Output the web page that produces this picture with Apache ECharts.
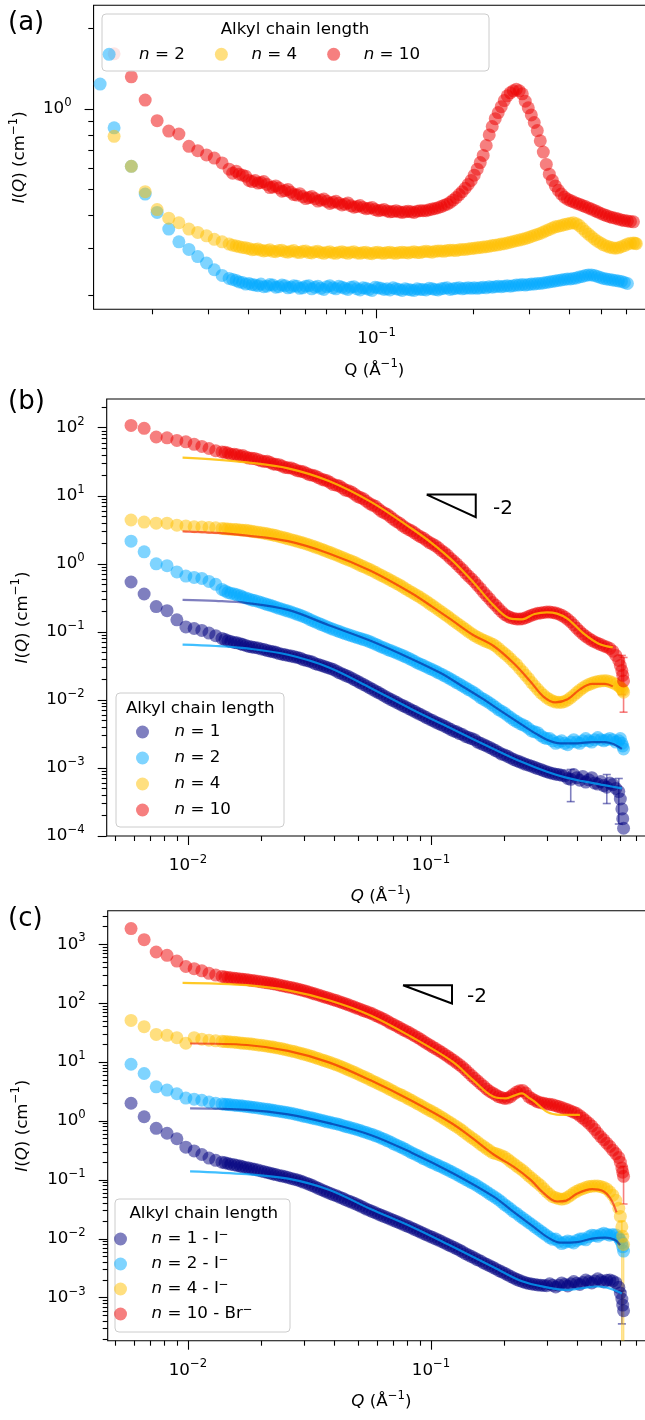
<!DOCTYPE html>
<html><head><meta charset="utf-8">
<script src="https://cdn.jsdelivr.net/npm/echarts@6.0.0/dist/echarts.min.js"></script>
<style>html,body{margin:0;padding:0;background:#fff;overflow:hidden;width:645px;height:1420px}
#c{width:660px;height:1420px}</style></head>
<body><div id="c"></div>
<script>
// ---------- DATA ----------
// Panel (a): Q values and intensities
const qA = [0.01375,0.0152,0.0172,0.019,0.0207,0.0225,0.0242,0.026,0.0277,0.0295,0.0312,0.033,
 0.0347,0.0356,0.0365,0.0373,0.0382,0.0391,0.04,0.0409,0.0418,0.0427,0.0436,0.0445,0.0455,0.0465,0.0475,0.0485,0.0496,0.0507,0.0518,0.0529,0.054,0.0552,0.0564,0.0576,0.0589,0.0602,0.0615,0.0628,0.0642,0.0656,0.067,0.0685,0.07,0.0715,0.0731,0.0747,0.0763,0.078,0.0797,0.0814,0.0832,0.085,0.0869,0.0888,0.0907,0.0927,0.0947,0.0968,0.0989,0.101,0.1032,0.1055,0.1078,0.1101,0.1125,0.115,0.1175,0.1201,0.1227,0.1254,0.1281,0.1309,0.1337,0.1366,0.1396,0.1427,0.1458,0.149,0.1522,0.1555,0.1589,0.1624,0.1659,0.1695,0.1732,0.177,0.1809,0.1848,0.1888,0.193,
 0.1972,0.2015,0.2059,0.2104,0.2149,0.2196,0.2244,0.2293,0.2343,0.2394,0.2446,0.25,0.2554,0.261,0.2666,0.2725,0.2784,0.2845,0.2906,0.297,0.3035,0.31,0.3168,0.3237,0.3308,0.338,0.3454,
 0.353,0.3606,0.3685,0.3765,0.3848,0.3931,0.4017,0.4104,0.4194,0.4285,0.4379,0.4474,0.4572,0.4671,0.4773,0.4877,0.4984,0.5092,0.5203,0.5316,0.5432,0.555,0.5671,0.5795,0.5921,0.605,0.6183,0.6317,0.64,0.645];
const IA2 = [1.24,0.85,0.61,0.48,0.41,0.355,0.318,0.298,0.28,0.265,0.25,0.238,
 0.232,0.23,0.228,0.225,0.224,0.221,0.222,0.22,0.219,0.218,0.221,0.216,0.217,0.22,0.219,0.215,0.216,0.219,0.218,0.214,0.215,0.218,0.217,0.213,0.214,0.217,0.218,0.212,0.215,0.217,0.213,0.211,0.216,0.218,0.214,0.212,0.217,0.215,0.213,0.211,0.215,0.216,0.212,0.21,0.214,0.213,0.211,0.209,0.215,0.214,0.213,0.211,0.212,0.21,0.214,0.212,0.211,0.209,0.212,0.211,0.21,0.209,0.212,0.211,0.211,0.21,0.213,0.212,0.211,0.21,0.212,0.213,0.214,0.211,0.212,0.213,0.214,0.212,0.213,0.214,
 0.213,0.214,0.213,0.214,0.215,0.214,0.216,0.215,0.216,0.217,0.216,0.217,0.218,0.217,0.218,0.219,0.219,0.22,0.219,0.22,0.221,0.221,0.222,0.222,0.223,0.224,0.225,
 0.226,0.227,0.228,0.229,0.23,0.231,0.231,0.232,0.233,0.235,0.236,0.238,0.239,0.239,0.238,0.236,0.234,0.232,0.231,0.23,0.229,0.228,0.227,0.226,0.224,0.222,null,null,null,null];
const IA4 = [null,0.79,0.61,0.49,0.42,0.39,0.375,0.355,0.345,0.335,0.325,0.318,
 0.312,0.309,0.307,0.305,0.303,0.302,0.3,0.297,0.298,0.299,0.296,0.294,0.295,0.297,0.293,0.292,0.295,0.296,0.292,0.291,0.293,0.295,0.291,0.29,0.293,0.294,0.29,0.289,0.292,0.293,0.29,0.288,0.291,0.292,0.289,0.288,0.291,0.292,0.29,0.288,0.291,0.292,0.289,0.288,0.29,0.291,0.288,0.287,0.29,0.291,0.289,0.288,0.29,0.291,0.289,0.288,0.29,0.291,0.29,0.289,0.291,0.292,0.29,0.29,0.292,0.293,0.292,0.291,0.293,0.294,0.294,0.293,0.295,0.296,0.296,0.295,0.297,0.298,0.298,0.299,
 0.3,0.301,0.302,0.303,0.304,0.305,0.306,0.308,0.309,0.31,0.312,0.313,0.315,0.317,0.319,0.321,0.323,0.325,0.327,0.33,0.333,0.336,0.339,0.342,0.346,0.35,0.354,
 0.358,0.362,0.364,0.366,0.369,0.371,0.373,0.375,0.372,0.366,0.357,0.348,0.34,0.333,0.326,0.32,0.315,0.31,0.307,0.304,0.302,0.301,0.302,0.305,0.308,0.312,0.314,0.315,0.314,0.313];
const IA10 = [null,1.61,1.32,1.08,0.904,0.827,0.806,0.725,0.698,0.673,0.655,0.628,
 0.595,0.575,0.585,0.57,0.565,0.56,0.54,0.535,0.54,0.528,0.53,0.535,0.522,0.508,0.51,0.515,0.506,0.492,0.495,0.5,0.488,0.478,0.476,0.482,0.47,0.462,0.466,0.47,0.462,0.452,0.456,0.46,0.451,0.443,0.447,0.451,0.444,0.437,0.44,0.445,0.434,0.429,0.431,0.435,0.428,0.423,0.425,0.428,0.42,0.416,0.418,0.42,0.415,0.412,0.413,0.416,0.412,0.41,0.412,0.414,0.412,0.41,0.414,0.416,0.416,0.416,0.419,0.422,0.424,0.427,0.431,0.436,0.44,0.447,0.456,0.466,0.478,0.49,0.505,0.522,
 0.54,0.565,0.595,0.63,0.67,0.73,0.8,0.86,0.92,0.97,1.02,1.075,1.12,1.15,1.17,1.185,1.17,1.14,1.07,1.01,0.95,0.89,0.83,0.76,0.69,0.62,0.57,
 0.54,0.515,0.496,0.48,0.468,0.46,0.454,0.449,0.444,0.44,0.435,0.431,0.426,0.422,0.417,0.412,0.407,0.403,0.399,0.395,0.392,0.39,0.387,0.384,0.382,0.381,0.379,0.378,null,null];

// Panels (b) and (c): shared Q values
const qB = [0.00583,0.0066,0.0074,0.0082,0.009,0.0098,0.0106,0.0114,0.0122,0.013,
 0.0138,0.0142,0.0146,0.015,0.0155,0.0159,0.0164,0.0168,0.0173,0.0178,0.0183,0.0188,0.0194,0.02,0.0206,0.0212,0.0218,0.0224,0.023,0.0237,0.0244,0.0251,0.0258,0.0266,0.0274,0.0282,0.029,0.0298,0.0307,0.0316,0.0325,0.0334,0.0344,0.0354,0.0364,0.0374,0.0385,0.0396,0.0408,0.042,0.0432,0.0444,0.0457,0.047,0.0484,0.0498,0.0512,0.0527,0.0542,0.0558,0.0574,0.0591,0.0608,0.0625,0.0643,0.0662,0.0681,0.0701,0.0721,0.0742,0.0763,0.0785,0.0808,0.0831,0.0855,0.088,0.0905,0.0931,0.0958,0.0986,0.1014,0.1044,0.1074,0.1105,0.1137,0.117,0.1203,0.1238,0.1274,0.1311,0.1348,0.1387,0.1427,0.1469,0.1511,0.1555,0.16,0.1646,0.1693,0.1742,0.1792,0.1844,0.1897,0.1952,0.2009,0.2067,0.2126,0.2188,0.2251,0.2316,0.2383,0.2452,0.2522,0.2595,0.267,0.2747,0.2827,0.2909,0.2992,0.3079,0.3168,0.3259,0.3353,0.345,0.355,0.3652,0.3758,0.3867,0.3978,0.4093,0.4211,0.4333,0.4458,0.4587,0.4719,0.4855,0.4995,0.514,0.5288,0.5441,0.5598,0.576,0.5926,0.6013,0.61,0.615,0.62];
const IB10 = [108,98,73,71,65,62,57,53,49.5,46,
 44,43.5,42.5,40.8,40.6,40.2,38.5,38.9,37.2,35.8,35.5,35.2,34,32.6,32,32.1,30.8,29.4,29,28.6,27.3,26.1,25.8,25.5,24.5,23.3,23,22.6,21.5,20.4,20,19.5,18.5,17.5,17,16.6,15.6,14.6,14.3,13.9,13,12.1,11.8,11.4,10.6,9.8,9.4,9.0,8.3,7.7,7.3,7.0,6.4,5.9,5.6,5.3,4.9,4.5,4.2,3.95,3.65,3.4,3.2,3.05,2.85,2.65,2.5,2.38,2.2,2.05,1.95,1.84,1.7,1.56,1.45,1.33,1.2,1.1,1.0,0.9,0.82,0.73,0.66,0.6,0.54,0.48,0.43,0.38,0.34,0.305,0.27,0.245,0.22,0.198,0.18,0.17,0.162,0.157,0.155,0.154,0.156,0.161,0.168,0.176,0.182,0.187,0.19,0.193,0.195,0.195,0.193,0.189,0.183,0.175,0.165,0.153,0.14,0.126,0.113,0.102,0.093,0.086,0.08,0.075,0.071,0.068,0.065,0.062,0.06,0.057,0.052,0.045,0.038,0.032,0.027,0.023,0.019];
const IB4 = [4.4,4.1,3.95,3.95,3.7,3.6,3.5,3.48,3.42,3.38,
 3.3,3.27,3.26,3.22,3.2,3.18,3.15,3.12,3.1,3.05,3.0,2.97,2.92,2.87,2.82,2.76,2.7,2.66,2.6,2.52,2.46,2.4,2.33,2.26,2.2,2.14,2.08,2.02,1.96,1.89,1.83,1.76,1.7,1.64,1.58,1.52,1.46,1.4,1.35,1.29,1.24,1.19,1.14,1.1,1.05,1.0,0.95,0.91,0.87,0.83,0.79,0.75,0.71,0.675,0.64,0.61,0.575,0.545,0.515,0.49,0.46,0.43,0.405,0.383,0.36,0.34,0.32,0.3,0.28,0.26,0.243,0.226,0.21,0.196,0.182,0.17,0.157,0.146,0.135,0.126,0.117,0.109,0.101,0.094,0.088,0.083,0.079,0.075,0.072,0.069,0.066,0.062,0.057,0.052,0.048,0.044,0.04,0.036,0.033,0.029,0.026,0.023,0.0205,0.018,0.016,0.0143,0.0128,0.0117,0.0108,0.0101,0.0096,0.0093,0.0092,0.0092,0.0095,0.01,0.0108,0.0117,0.0128,0.0139,0.015,0.016,0.0168,0.0175,0.0182,0.0187,0.019,0.0191,0.0191,0.0186,0.0178,0.017,0.016,0.0152,0.0145,0.0138,0.013];
const IB2 = [2.15,1.5,1.0,0.94,0.76,0.66,0.63,0.61,0.55,0.5,
 0.42,0.4,0.38,0.37,0.36,0.35,0.34,0.325,0.315,0.305,0.295,0.288,0.28,0.27,0.262,0.252,0.245,0.238,0.23,0.222,0.215,0.208,0.202,0.195,0.188,0.181,0.175,0.168,0.161,0.153,0.146,0.14,0.134,0.128,0.123,0.118,0.113,0.109,0.105,0.101,0.097,0.094,0.091,0.088,0.085,0.082,0.08,0.077,0.075,0.072,0.069,0.066,0.063,0.06,0.058,0.055,0.053,0.051,0.049,0.047,0.045,0.043,0.041,0.039,0.037,0.035,0.0335,0.032,0.0305,0.029,0.0278,0.0264,0.025,0.0238,0.0226,0.0214,0.0202,0.0191,0.018,0.017,0.016,0.0151,0.0142,0.0134,0.0126,0.0117,0.0108,0.0102,0.0096,0.009,0.0084,0.0078,0.0072,0.0068,0.0064,0.0059,0.0055,0.0051,0.0048,0.0045,0.0043,0.0041,0.0038,0.0035,0.0034,0.0033,0.003,0.0028,0.0027,0.0027,0.0025,0.0023,0.0024,0.0025,0.0023,0.0022,0.0024,0.0026,0.0024,0.0023,0.0025,0.0027,0.0025,0.0024,0.0026,0.0028,0.0026,0.0025,0.0026,0.0027,0.0026,0.0024,0.0025,0.0027,0.0023,0.0021,0.0019,0.0017,0.0016];
const IB1 = [0.54,0.36,0.235,0.205,0.15,0.118,0.112,0.105,0.096,0.088,
 0.08,0.077,0.074,0.072,0.07,0.069,0.067,0.065,0.063,0.061,0.06,0.059,0.058,0.056,0.055,0.053,0.052,0.051,0.05,0.048,0.047,0.046,0.045,0.044,0.043,0.042,0.041,0.039,0.038,0.037,0.036,0.034,0.033,0.032,0.031,0.03,0.029,0.028,0.0265,0.025,0.024,0.023,0.022,0.021,0.0198,0.0188,0.0178,0.0169,0.016,0.0151,0.0143,0.0135,0.0128,0.0121,0.0114,0.0108,0.0102,0.0097,0.0092,0.0087,0.0083,0.0079,0.0075,0.0071,0.0068,0.0064,0.0061,0.0058,0.0055,0.0052,0.005,0.0047,0.0045,0.0043,0.0041,0.0039,0.0037,0.0035,0.0034,0.0032,0.0031,0.0029,0.0028,0.0027,0.0026,0.0024,0.0023,0.0022,0.0021,0.002,0.0019,0.0018,0.0017,0.0016,0.00155,0.00148,0.0014,0.00133,0.00128,0.00123,0.00118,0.00113,0.0011,0.00106,0.00102,0.00098,0.00095,0.00091,0.00088,0.00085,0.00083,0.00081,0.0008,0.00078,0.00077,0.0007,0.00068,0.0008,0.00072,0.00066,0.00075,0.00062,0.00067,0.00072,0.0006,0.00058,0.00063,0.00055,0.00052,0.0006,0.00057,0.0005,0.00045,0.00035,0.00025,0.00018,0.00013];
const IC10 = [1850,1200,740,650,520,420,385,355,322,300,
 285,278,272,270,265,262,258,255,252,248,244,240,236,231,226,222,218,214,210,204,198,194,189,185,180,175,170,165,159,154,148,143,138,133,128,124,119,115,111,106,102,98,94,90,86,82,79,75,72,69,66,62,59,56,53,49.5,46,43.5,41,38.5,36,34,32,30,28,26.2,24.5,22.7,21,19.6,18.2,17,15.8,14.7,13.6,12.6,11.6,10.7,9.8,9.0,8.2,7.4,6.6,5.9,5.3,4.8,4.3,3.9,3.5,3.2,3.0,2.8,2.6,2.5,2.42,2.45,2.6,2.85,3.1,3.25,3.3,3.0,2.6,2.4,2.25,2.12,2.05,2.0,1.95,1.92,1.88,1.82,1.76,1.69,1.62,1.55,1.48,1.41,1.34,1.23,1.12,1.02,0.92,0.82,0.72,0.62,0.54,0.48,0.42,0.37,0.32,0.28,0.24,0.2,0.16,0.135,0.115];
const IC4 = [51,40,29.5,28.5,26,21,26,24.5,23.5,23,
 22.5,22.3,22.2,22.0,21.8,21.5,21.2,21.0,20.7,20.5,20.2,19.9,19.6,19.3,19,18.6,18.3,18.0,17.6,17.2,16.8,16.3,15.9,15.5,15.1,14.6,14.2,13.7,13.3,12.8,12.4,11.9,11.5,11.0,10.6,10.2,9.8,9.4,9.0,8.6,8.2,7.8,7.4,7.05,6.7,6.35,6.0,5.7,5.4,5.1,4.8,4.55,4.3,4.05,3.85,3.62,3.4,3.2,3.0,2.85,2.7,2.54,2.38,2.24,2.1,1.97,1.85,1.73,1.62,1.52,1.43,1.34,1.25,1.16,1.08,1.0,0.93,0.86,0.8,0.74,0.68,0.62,0.57,0.52,0.48,0.44,0.4,0.37,0.34,0.315,0.29,0.28,0.27,0.258,0.245,0.225,0.205,0.188,0.172,0.158,0.145,0.131,0.118,0.107,0.097,0.088,0.08,0.071,0.063,0.057,0.052,0.05,0.048,0.047,0.048,0.051,0.055,0.06,0.064,0.068,0.071,0.074,0.077,0.078,0.079,0.079,0.077,0.074,0.07,0.063,0.055,0.045,0.033,0.024,0.016,0.011,0.008];
const IC2 = [9.2,6.4,3.8,3.35,2.9,2.45,2.35,2.25,2.1,2.0,
 1.95,1.92,1.9,1.88,1.86,1.84,1.82,1.8,1.77,1.75,1.72,1.7,1.67,1.63,1.6,1.58,1.55,1.52,1.5,1.47,1.44,1.41,1.38,1.35,1.32,1.28,1.25,1.21,1.18,1.15,1.12,1.09,1.06,1.03,1.0,0.97,0.95,0.92,0.9,0.87,0.84,0.81,0.79,0.76,0.74,0.71,0.69,0.66,0.64,0.61,0.59,0.56,0.54,0.51,0.49,0.46,0.44,0.41,0.39,0.37,0.35,0.33,0.31,0.29,0.275,0.26,0.245,0.23,0.218,0.206,0.195,0.185,0.175,0.166,0.157,0.148,0.14,0.132,0.124,0.116,0.109,0.102,0.096,0.09,0.085,0.079,0.073,0.068,0.063,0.058,0.054,0.05,0.046,0.042,0.038,0.035,0.032,0.029,0.027,0.0245,0.0225,0.0207,0.019,0.0175,0.016,0.0147,0.0135,0.0124,0.0114,0.0105,0.0098,0.0099,0.009,0.0083,0.0087,0.0092,0.0089,0.0085,0.0094,0.0099,0.01,0.0096,0.0108,0.0115,0.0114,0.011,0.0118,0.0124,0.012,0.0115,0.0118,0.0116,0.0105,0.0095,0.0085,0.0073,0.0062];
const IC1 = [2.0,1.18,0.75,0.62,0.5,0.36,0.31,0.27,0.235,0.215,
 0.2,0.195,0.19,0.185,0.18,0.176,0.172,0.167,0.163,0.159,0.155,0.151,0.147,0.142,0.138,0.134,0.13,0.126,0.123,0.119,0.116,0.113,0.11,0.106,0.103,0.1,0.096,0.092,0.088,0.084,0.08,0.076,0.072,0.068,0.065,0.062,0.059,0.056,0.054,0.051,0.049,0.046,0.044,0.042,0.04,0.038,0.036,0.034,0.032,0.0305,0.029,0.0276,0.0262,0.025,0.0238,0.0227,0.0216,0.0206,0.0196,0.0187,0.0178,0.0169,0.0161,0.0153,0.0145,0.0137,0.013,0.0123,0.0117,0.0111,0.0106,0.01,0.0095,0.009,0.0085,0.008,0.0076,0.0072,0.0068,0.0064,0.006,0.0056,0.0053,0.005,0.0047,0.0044,0.0042,0.0039,0.0037,0.0035,0.0033,0.0031,0.0029,0.00275,0.0026,0.00245,0.0023,0.00217,0.00205,0.00195,0.00187,0.0018,0.00175,0.00171,0.00168,0.00165,0.00163,0.00161,0.0016,0.00172,0.00162,0.00152,0.00163,0.00178,0.00168,0.00158,0.00172,0.00188,0.00176,0.00168,0.00182,0.002,0.00188,0.00178,0.00193,0.0021,0.00196,0.00185,0.00197,0.002,0.00192,0.0018,0.0015,0.0012,0.00095,0.00075,0.0006];

// Model fits
const fqB10 = [0.0095,0.013,0.0175,0.0258,0.038,0.0564,0.0832,0.101,0.123,0.149,0.181,0.211,0.237,0.267,0.3,0.33,0.365,0.424,0.49,0.56];
const fIB10 = [36.3,34,30.9,25.3,16.5,8.2,3.3,2.0,1.1,0.54,0.245,0.158,0.153,0.183,0.193,0.185,0.155,0.095,0.067,0.059];
const fqB4 = [0.0095,0.013,0.0175,0.0258,0.038,0.0564,0.0832,0.101,0.123,0.149,0.181,0.22,0.257,0.29,0.325,0.365,0.41,0.46,0.52,0.56];
const fIB4 = [3.0,2.85,2.6,2.15,1.42,0.79,0.37,0.235,0.145,0.09,0.062,0.034,0.0185,0.0112,0.0092,0.0102,0.0143,0.0172,0.0172,0.0158];
const fqB2 = [0.0095,0.013,0.0175,0.0258,0.038,0.0564,0.0832,0.109,0.133,0.161,0.195,0.237,0.27,0.3,0.34,0.4,0.46,0.52,0.57,0.61];
const fIB2 = [0.296,0.285,0.265,0.21,0.125,0.074,0.04,0.025,0.0163,0.0107,0.0068,0.0043,0.0032,0.0026,0.0023,0.0023,0.0024,0.0024,0.0022,0.0019];
const fqB1 = [0.0095,0.013,0.0175,0.0258,0.038,0.0564,0.0832,0.123,0.181,0.237,0.3,0.36,0.42,0.5,0.56,0.61];
const fIB1 = [0.065,0.062,0.057,0.046,0.03,0.015,0.0073,0.0037,0.0019,0.00122,0.00088,0.00072,0.00064,0.00057,0.00053,0.0005];
const fqC10 = [0.0095,0.013,0.0175,0.0258,0.038,0.0564,0.0832,0.123,0.149,0.181,0.204,0.22,0.237,0.252,0.267,0.3,0.34,0.41];
const fIC10 = [221,215,202,165,112,62,26.7,10.1,4.95,2.58,2.42,2.7,2.94,2.5,2.13,1.43,1.27,1.27];
const fqC4 = [0.0102,0.0175,0.0258,0.038,0.0564,0.0832,0.123,0.149,0.181,0.22,0.257,0.29,0.33,0.36,0.4,0.46,0.51,0.55,0.58];
const fIC4 = [20.7,19.5,15.5,9.9,4.9,2.2,0.89,0.5,0.27,0.165,0.1,0.06,0.043,0.0445,0.059,0.07,0.065,0.047,0.028];
const fqC2 = [0.0102,0.0175,0.0258,0.038,0.0564,0.0832,0.123,0.181,0.22,0.267,0.3,0.34,0.4,0.46,0.52,0.57,0.6];
const fIC2 = [1.64,1.55,1.3,0.92,0.58,0.29,0.13,0.052,0.028,0.0155,0.0108,0.0086,0.0088,0.0101,0.0105,0.0096,0.0078];
const fqC1 = [0.0102,0.0175,0.0258,0.038,0.0564,0.0832,0.123,0.181,0.237,0.3,0.36,0.42,0.48,0.53,0.58,0.61];
const fIC1 = [0.14,0.125,0.105,0.068,0.032,0.016,0.0073,0.0033,0.0019,0.0015,0.00136,0.00145,0.00155,0.00148,0.0013,0.00118];

// Visible error bars (q, low, high)
const eqB10 = [0.61,0.62], eloB10 = [0.012,0.0066], ehiB10 = [0.045,0.042];
const eqB1 = [0.3758,0.5288,0.5926], eloB1 = [0.00032,0.0003,0.00015], ehiB1 = [0.00095,0.0008,0.0007];
const eqC10 = [0.62], eloC10 = [0.039], ehiC10 = [0.17];
const eqC4 = [0.61,0.62], eloC4 = [0.0001,0.0001], ehiC4 = [0.02,0.012];
const eqC1 = [0.61], eloC1 = [0.00036], ehiC1 = [0.0013];

// Slope -2 guide triangles
const triBq = [0.096,0.1528,0.1528,0.096], triBI = [10.4,10.4,4.84,10.4];
const triCq = [0.0767,0.122,0.122,0.0767], triCI = [202,202,98.8,202];

// Tick labels (major decades)
const aXMajor = [0.1], aYMajor = [1];
const bXMajor = [0.01,0.1], bYMajor = [1e-4,1e-3,1e-2,1e-1,1,10,100];
const cXMajor = [0.01,0.1], cYMajor = [1e-3,1e-2,1e-1,1,10,100,1000];

// Legend labels
const legendTitle = 'Alkyl chain length';
const legendText = {
  a2:'{i|n} = 2', a4:'{i|n} = 4', a10:'{i|n} = 10',
  b1:'{i|n} = 1', b2:'{i|n} = 2', b4:'{i|n} = 4', b10:'{i|n} = 10',
  c1:'{i|n} = 1 - I{s|−}', c2:'{i|n} = 2 - I{s|−}', c4:'{i|n} = 4 - I{s|−}', c10:'{i|n} = 10 - Br{s|−}'
};

// ---------- CHART ----------
const FONT = 'DejaVu Sans';
const COL = {n1:'#000080', n2:'#00aaff', n4:'#ffc000', n10:'#ee0000'};
const RICH = {
  i:{fontFamily:FONT, fontStyle:'italic', fontSize:16.7, lineHeight:24, color:'#000'},
  b:{fontFamily:FONT, fontSize:16.7, lineHeight:24, color:'#000'},
  s:{fontFamily:FONT, fontSize:11.7, lineHeight:14, verticalAlign:'top', color:'#000'}
};
const RICH_L = {
  i:{fontFamily:FONT, fontStyle:'italic', fontSize:16.7, lineHeight:20, color:'#000'},
  s:{fontFamily:FONT, fontSize:11.7, lineHeight:11, verticalAlign:'top', color:'#000'}
};

function pairs(q, I){ const o=[]; for(let i=0;i<q.length;i++){ if(I[i]!=null) o.push([q[i], I[i]]); } return o; }
function minorTicks(lo, hi){ const o=[]; for(let e=Math.floor(Math.log10(lo)); e<=Math.ceil(Math.log10(hi)); e++){ for(let k=2;k<=9;k++){ const v=k*Math.pow(10,e); if(v>lo && v<hi) o.push(v); } } return o; }
function powLabel(v){ const e=Math.round(Math.log10(v)); return '{b|10}{s|'+(e<0?'−':'')+Math.abs(e)+'}'; }

const G = [
  {left:93.3, top:5.3, width:561.7, height:304, x:[0.013118,0.7374], y:[0.17775,2.4458], xm:aXMajor, ym:aYMajor,
   xname:'Q (Å{s|−1})', yGap:59},
  {left:106.7, top:399, width:548.3, height:437, x:[0.0046291,0.83507], y:[1e-4,264.1], xm:bXMajor, ym:bYMajor,
   xname:'{i|Q} (Å{s|−1})', yGap:72.5},
  {left:107.7, top:910.7, width:547.3, height:430, x:[0.0046733,0.83507], y:[1.862e-4,3720], xm:cXMajor, ym:cYMajor,
   xname:'{i|Q} (Å{s|−1})', yGap:73.5}
];
const TICK = {color:'#000', width:1.1};
const grids=[], xAxes=[], yAxes=[];
G.forEach((g,i)=>{
  grids.push({left:g.left, top:g.top, width:g.width, height:g.height, show:true, borderColor:'#000', borderWidth:1.1, backgroundColor:'transparent', containLabel:false});
  xAxes.push({type:'log', logBase:10, gridIndex:i, min:g.x[0], max:g.x[1], position:'bottom',
    axisLine:{show:false}, splitLine:{show:false}, minorTick:{show:false},
    axisTick:{show:true, customValues:g.xm, length:9, lineStyle:TICK},
    axisLabel:{show:true, customValues:g.xm, formatter:powLabel, margin:17.5, rich:RICH, color:'#000'},
    name:g.xname, nameLocation:'middle', nameGap:49,
    nameTextStyle:{fontFamily:FONT, fontSize:16.7, lineHeight:24, color:'#000', rich:RICH}});
  yAxes.push({type:'log', logBase:10, gridIndex:i, min:g.y[0], max:g.y[1], position:'left',
    axisLine:{show:false}, splitLine:{show:false}, minorTick:{show:false},
    axisTick:{show:true, customValues:g.ym, length:9, lineStyle:TICK},
    axisLabel:{show:true, customValues:g.ym, formatter:powLabel, margin:22, rich:RICH, color:'#000'},
    name:'{i|I}({i|Q}) (cm{s|−1})', nameLocation:'middle', nameGap:g.yGap,
    nameTextStyle:{fontFamily:FONT, fontSize:16.7, lineHeight:24, color:'#000', rich:RICH}});
});
// overlay grids carrying the minor ticks
G.forEach((g,i)=>{
  grids.push({left:g.left, top:g.top, width:g.width, height:g.height, show:false, containLabel:false});
  xAxes.push({type:'log', logBase:10, gridIndex:3+i, min:g.x[0], max:g.x[1], position:'bottom',
    axisLine:{show:false}, splitLine:{show:false}, axisLabel:{show:false},
    axisTick:{show:true, customValues:minorTicks(g.x[0],g.x[1]), length:5, lineStyle:TICK}});
  yAxes.push({type:'log', logBase:10, gridIndex:3+i, min:g.y[0], max:g.y[1], position:'left',
    axisLine:{show:false}, splitLine:{show:false}, axisLabel:{show:false},
    axisTick:{show:true, customValues:minorTicks(g.y[0],g.y[1]), length:5, lineStyle:TICK}});
});

function scat(gi, id, color, q, I){
  return {name:id, type:'scatter', xAxisIndex:gi, yAxisIndex:gi, data:pairs(q,I), symbol:'circle', symbolSize:13,
    itemStyle:{color:color, opacity:0.5}, z:2, silent:true, large:false};
}
function fit(gi, color, op, q, I){
  return {type:'line', xAxisIndex:gi, yAxisIndex:gi, data:pairs(q,I), symbol:'none', smooth:0.35,
    lineStyle:{color:color, width:2.2, opacity:op}, z:3, silent:true};
}
function err(gi, color, q, lo, hi){
  return {type:'custom', xAxisIndex:gi, yAxisIndex:gi, clip:true, silent:true, z:2,
    data:q.map((v,k)=>[v, lo[k], hi[k]]), encode:{x:0, y:[1,2]},
    renderItem:function(params, api){
      const a=api.coord([api.value(0), api.value(2)]), b=api.coord([api.value(0), api.value(1)]);
      const st={stroke:color, lineWidth:1.6, opacity:0.5}, w=4;
      return {type:'group', children:[
        {type:'line', shape:{x1:a[0],y1:a[1],x2:b[0],y2:b[1]}, style:st},
        {type:'line', shape:{x1:a[0]-w,y1:a[1],x2:a[0]+w,y2:a[1]}, style:st},
        {type:'line', shape:{x1:b[0]-w,y1:b[1],x2:b[0]+w,y2:b[1]}, style:st}]};
    }};
}
function tri(gi, q, I){
  return {type:'line', xAxisIndex:gi, yAxisIndex:gi, data:pairs(q,I), symbol:'none', z:5, silent:true,
    lineStyle:{color:'#000', width:2, join:'miter'}};
}

const series = [
  scat(0,'a2',COL.n2,qA,IA2), scat(0,'a4',COL.n4,qA,IA4), scat(0,'a10',COL.n10,qA,IA10),

  scat(1,'b1',COL.n1,qB,IB1), err(1,COL.n1,eqB1,eloB1,ehiB1), fit(1,COL.n2,0.75,fqB1,fIB1),
  scat(1,'b2',COL.n2,qB,IB2), fit(1,COL.n1,0.5,fqB2,fIB2),
  scat(1,'b4',COL.n4,qB,IB4), fit(1,COL.n10,0.55,fqB4,fIB4),
  scat(1,'b10',COL.n10,qB,IB10), err(1,COL.n10,eqB10,eloB10,ehiB10), fit(1,COL.n4,0.85,fqB10,fIB10),
  tri(1,triBq,triBI),

  scat(2,'c1',COL.n1,qB,IC1), err(2,COL.n1,eqC1,eloC1,ehiC1), fit(2,COL.n2,0.75,fqC1,fIC1),
  scat(2,'c2',COL.n2,qB,IC2), fit(2,COL.n1,0.5,fqC2,fIC2),
  scat(2,'c4',COL.n4,qB,IC4), err(2,COL.n4,eqC4,eloC4,ehiC4), fit(2,COL.n10,0.55,fqC4,fIC4),
  scat(2,'c10',COL.n10,qB,IC10), err(2,COL.n10,eqC10,eloC10,ehiC10), fit(2,COL.n4,0.85,fqC10,fIC10),
  tri(2,triCq,triCI)
];

function legend(names, left, top, orient, gap, w){
  return {data:names, left:left, top:top, orient:orient, itemGap:gap, itemWidth:w, itemHeight:13, padding:0,
    icon:'circle', selectedMode:false, z:60, itemStyle:{opacity:0.5},
    formatter:n=>legendText[n],
    textStyle:{fontFamily:FONT, fontSize:16.7, lineHeight:20, color:'#000', rich:RICH_L}};
}

function txt(x, y, s, size, align){
  return {type:'text', z:60, style:{x:x, y:y, text:s, fontFamily:FONT, fontSize:size, fill:'#000',
    textAlign:align||'left', textVerticalAlign:'middle'}};
}
function box(x,y,w,h){
  return {type:'rect', z:50, shape:{x:x,y:y,width:w,height:h,r:4}, style:{fill:'rgba(255,255,255,0.8)', stroke:'#cccccc', lineWidth:1}};
}

const option = {
  animation:false,
  textStyle:{fontFamily:FONT},
  grid:grids, xAxis:xAxes, yAxis:yAxes, series:series,
  legend:[
    legend(['a2','a4','a10'], 102.6, 44.3, 'horizontal', 30, 50),
    legend(['b1','b2','b4','b10'], 136, 722, 'vertical', 6, 54),
    legend(['c1','c2','c4','c10'], 114, 1229, 'vertical', 5, 52)
  ],
  graphic:[
    box(102,14,387,57), box(116,693,168,134), box(115,1199,175,133),
    txt(295,29.3,legendTitle,16.7,'center'), txt(200.2,708.3,legendTitle,16.7,'center'), txt(203.7,1213.4,legendTitle,16.7,'center'),
    txt(8,23,'(a)',26), txt(8,402,'(b)',26), txt(8,919,'(c)',26),
    txt(493,509,'-2',20), txt(467,996.7,'-2',20)
  ]
};
const chart = echarts.init(document.getElementById('c'), null, {renderer:'canvas'});
chart.setOption(option);
</script></body></html>
